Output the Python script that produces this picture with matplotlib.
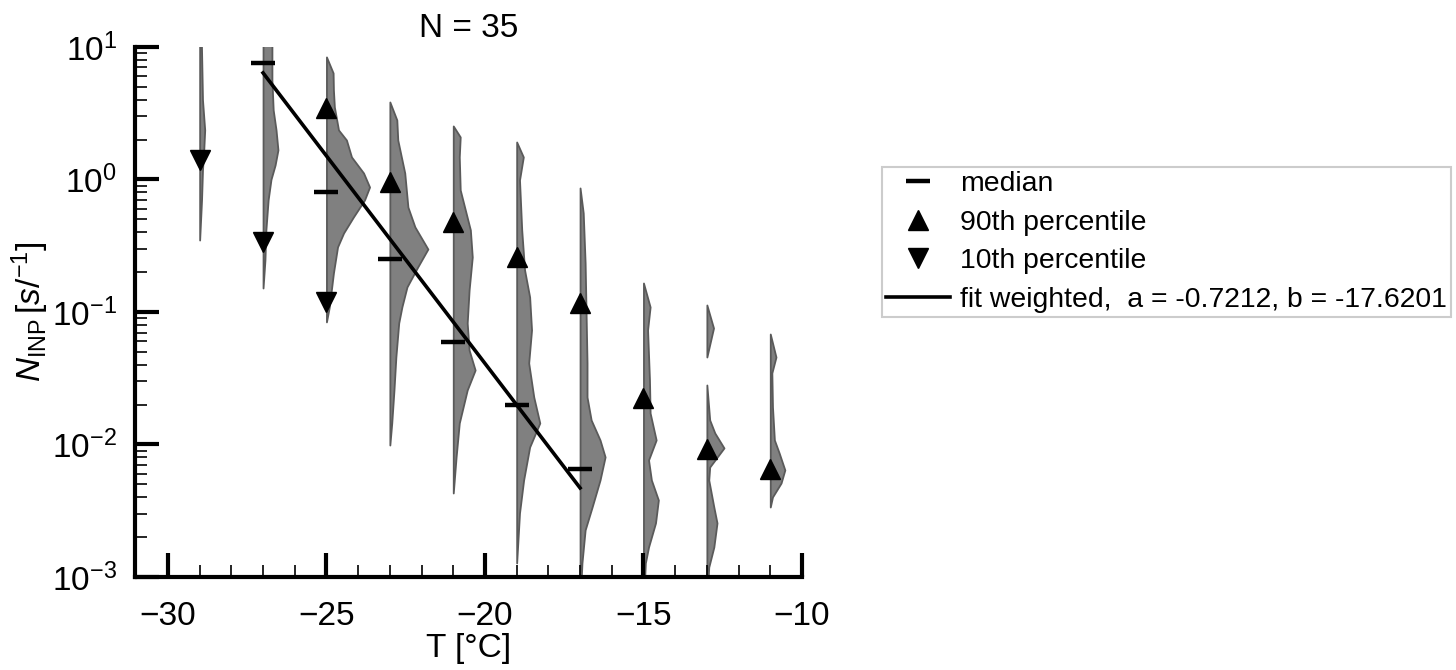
import numpy as np
import matplotlib
matplotlib.use('Agg')
import matplotlib.pyplot as plt

plt.rcParams['font.family'] = ['Liberation Sans', 'DejaVu Sans']
plt.rcParams['mathtext.fontset'] = 'custom'
plt.rcParams['mathtext.rm'] = 'Liberation Sans'
plt.rcParams['mathtext.it'] = 'Liberation Sans:italic'
plt.rcParams['mathtext.bf'] = 'Liberation Sans:bold'

# temperature bins [deg C]
temps = [-29, -27, -25, -23, -21, -19, -17, -15, -13, -11]

# percentiles of N_INP per bin (nan = outside the plotted range)
median = [np.nan, 7.6, 0.805, 0.251, 0.0594, 0.0199, 0.00653, np.nan, np.nan, np.nan]
p90 = [np.nan, np.nan, 3.47, 0.96, 0.478, 0.26, 0.117, 0.0224, 0.0092, 0.0065]
p10 = [1.4, 0.34, 0.119, np.nan, np.nan, np.nan, np.nan, np.nan, np.nan, np.nan]

# weighted fit  N = exp(a*T + b)
fit_a = -0.7212
fit_b = -17.6201
fit_t = [-27, -17]

# half-violin outlines: log10(N) levels and density width (in K), nan splits pieces
v29_log = [1.1, 0.60, 0.374, 0.223, 0.072, -0.155, -0.457]
v29_w = [0.05, 0.09, 0.16, 0.13, 0.09, 0.06, 0.0]
v27_log = [1.1, 0.751, 0.525, 0.374, 0.223, 0.109, 0.0, -0.155, -0.381, -0.608, -0.819]
v27_w = [0.28, 0.28, 0.32, 0.41, 0.47, 0.38, 0.25, 0.16, 0.09, 0.06, 0.0]
v25_log = [0.925, 0.804, 0.675, 0.547, 0.374, 0.298, 0.17, 0.049, -0.057, -0.155,
           -0.283, -0.404, -0.509, -0.706, -0.962, -1.075]
v25_w = [0.0, 0.21, 0.22, 0.25, 0.38, 0.63, 0.79, 1.17, 1.36, 1.20,
         0.85, 0.54, 0.35, 0.22, 0.09, 0.0]
v23_log = [0.585, 0.449, 0.298, 0.049, -0.208, -0.358, -0.525, -0.66, -0.811,
           -0.962, -1.083, -1.34, -1.589, -1.838, -2.004]
v23_w = [0.0, 0.22, 0.25, 0.47, 0.57, 0.79, 1.20, 0.88, 0.54,
         0.38, 0.28, 0.19, 0.13, 0.06, 0.0]
v21_log = [0.404, 0.321, 0.17, -0.079, -0.381, -0.585, -0.834, -1.083, -1.287,
           -1.438, -1.589, -1.838, -2.094, -2.366]
v21_w = [0.0, 0.22, 0.19, 0.22, 0.54, 0.60, 0.50, 0.44, 0.50,
         0.69, 0.44, 0.19, 0.09, 0.0]
v19_log = [0.283, 0.17, -0.004, -0.381, -0.683, -0.887, -1.136, -1.385, -1.642,
           -1.838, -2.019, -2.268, -2.517, -2.894]
v19_w = [0.0, 0.21, 0.09, 0.16, 0.25, 0.41, 0.47, 0.38, 0.54,
         0.73, 0.41, 0.22, 0.09, 0.0]
v17_log = [-0.064, -0.253, -0.63, -1.008, -1.385, -1.642, -1.815, -1.966, -2.094,
           -2.268, -2.472, -2.645, -2.894, -3.1]
v17_w = [0.0, 0.10, 0.16, 0.19, 0.22, 0.22, 0.35, 0.63, 0.79,
         0.63, 0.38, 0.16, 0.06, 0.02]
v15_log = [-0.781, -0.962, -1.136, -1.513, -1.762, -1.966, -2.117, -2.268, -2.419,
           -2.592, -2.774, -2.894, -3.1]
v15_w = [0.0, 0.21, 0.13, 0.19, 0.21, 0.40, 0.16, 0.25, 0.47,
         0.38, 0.16, 0.06, 0.02]
v13_log = [-0.947, -1.121, -1.34, np.nan, -1.551, -1.815, -1.913, -2.026, -2.17,
           -2.268, -2.472, -2.592, -2.774, -2.925, -3.1]
v13_w = [0.0, 0.21, 0.0, np.nan, 0.0, 0.09, 0.25, 0.54, 0.09,
         0.06, 0.22, 0.32, 0.22, 0.06, 0.02]
v11_log = [-1.166, -1.34, -1.46, -1.717, -1.966, -2.064, -2.192, -2.291, -2.396, -2.472]
v11_w = [0.0, 0.18, 0.05, 0.07, 0.13, 0.28, 0.46, 0.34, 0.07, 0.0]

violin_log = [v29_log, v27_log, v25_log, v23_log, v21_log, v19_log, v17_log, v15_log, v13_log, v11_log]
violin_w = [v29_w, v27_w, v25_w, v23_w, v21_w, v19_w, v17_w, v15_w, v13_w, v11_w]

fig = plt.figure(figsize=(14.56, 6.7), dpi=100)
ax = fig.add_axes([0.0927, 0.1388, 0.4581, 0.7911])

# half violins
for t, ly, w in zip(temps, violin_log, violin_w):
    ly = np.array(ly, dtype=float)
    w = np.array(w, dtype=float)
    breaks = np.where(np.isnan(ly))[0]
    for seg in np.split(np.arange(len(ly)), breaks):
        seg = seg[~np.isnan(ly[seg])]
        ax.fill_betweenx(10 ** ly[seg], t, t + w[seg], facecolor='#808080',
                         edgecolor='#5a5a5a', linewidth=1.3, zorder=1)

# fit line
tt = np.array(fit_t, dtype=float)
ax.plot(tt, np.exp(fit_a * tt + fit_b), color='k', lw=2.6, zorder=3,
        label='fit weighted,  a = %.4f, b = %.4f' % (fit_a, fit_b))

ax.plot(temps, median, ls='none', marker='_', ms=17, mew=3.2, color='k', zorder=4, label='median')
ax.plot(temps, p90, ls='none', marker='^', ms=14, color='k', zorder=4, label='90th percentile')
ax.plot(temps, p10, ls='none', marker='v', ms=14, color='k', zorder=4, label='10th percentile')

ax.set_yscale('log')
ax.set_ylim(1e-3, 1e1)
ax.set_xlim(-31.04, -10)
ax.set_xticks([-30, -25, -20, -15, -10])
ax.set_xticks(np.arange(-31, -9, 1), minor=True)

for s in ['top', 'right']:
    ax.spines[s].set_visible(False)
for s in ['left', 'bottom']:
    ax.spines[s].set_linewidth(3)

ax.tick_params(which='major', direction='in', length=17, width=3, labelsize=24)
ax.tick_params(which='minor', direction='in', length=8.5, width=1.2)
ax.tick_params(axis='x', which='major', pad=17)
ax.tick_params(axis='y', which='major', pad=13)

ax.set_xlabel('T [°C]', fontsize=24, labelpad=1)
ax.set_ylabel(r'$N_{\mathrm{INP}}\,[s/^{-1}]$', fontsize=24, labelpad=1)
ax.set_title('N = 35', fontsize=24, pad=7)

handles, labels = ax.get_legend_handles_labels()
order = [1, 2, 3, 0]
leg = fig.legend([handles[i] for i in order], [labels[i] for i in order],
                 loc='upper left', bbox_to_anchor=(0.6058, 0.7507),
                 bbox_transform=fig.transFigure, borderaxespad=0, fontsize=20.4,
                 fancybox=False, framealpha=1, edgecolor='#cccccc',
                 handlelength=2.26, handletextpad=0.35, labelspacing=0.44,
                 borderpad=0.15, numpoints=1)
leg.get_frame().set_linewidth(1.5)

fig.savefig('out.png', dpi=100)
